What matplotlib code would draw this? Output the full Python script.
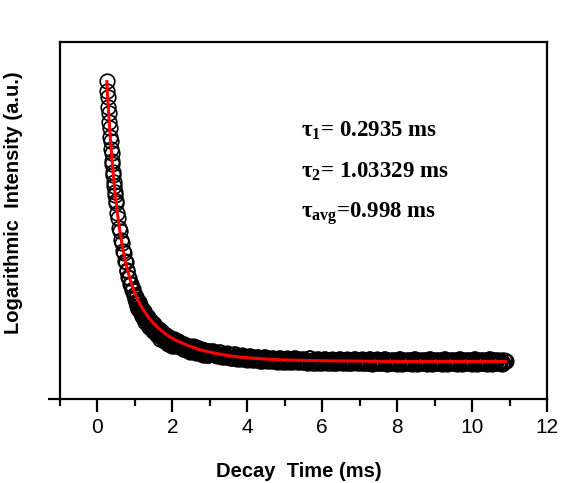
import matplotlib
matplotlib.use("Agg")
import matplotlib.pyplot as plt
from matplotlib.ticker import MultipleLocator

# measured decay data (time in ms, intensity in arbitrary units)
t_data = [0.25, 0.2625, 0.275, 0.2875, 0.30, 0.3125, 0.325, 0.3375, 0.35, 0.3625,
          0.375, 0.3875, 0.40, 0.4125, 0.425, 0.4375, 0.45, 0.4625, 0.475, 0.4875, 0.50,
          0.525, 0.55, 0.575, 0.60, 0.625, 0.65, 0.675, 0.70, 0.725, 0.75,
          0.775, 0.80, 0.825, 0.85, 0.875, 0.90, 0.925, 0.95, 0.975,
          1.000, 1.025, 1.050, 1.075, 1.100, 1.125, 1.150, 1.175, 1.200, 1.225,
          1.250, 1.275, 1.300, 1.325, 1.350, 1.375, 1.400, 1.425, 1.450, 1.475,
          1.500, 1.525, 1.550, 1.575, 1.600, 1.625, 1.650, 1.675, 1.700, 1.725,
          1.750, 1.775, 1.800, 1.825, 1.850, 1.875, 1.900, 1.925, 1.950, 1.975,
          2.000, 2.025, 2.050, 2.075, 2.100, 2.125, 2.150, 2.175, 2.200, 2.225,
          2.250, 2.275, 2.300, 2.325, 2.350, 2.375, 2.400, 2.425, 2.450, 2.475,
          2.500, 2.525, 2.550, 2.575, 2.600, 2.625, 2.650, 2.675, 2.700, 2.725,
          2.750, 2.775, 2.800, 2.825, 2.850, 2.875, 2.900, 2.925, 2.950, 2.975,
          3.00, 3.05, 3.10, 3.15, 3.20, 3.25, 3.30, 3.35, 3.40, 3.45, 3.50,
          3.55, 3.60, 3.65, 3.70, 3.75, 3.80, 3.85, 3.90, 3.95, 4.00,
          4.05, 4.10, 4.15, 4.20, 4.25, 4.30, 4.35, 4.40, 4.45, 4.50,
          4.55, 4.60, 4.65, 4.70, 4.75, 4.80, 4.85, 4.90, 4.95, 5.00,
          5.05, 5.10, 5.15, 5.20, 5.25, 5.30, 5.35, 5.40, 5.45, 5.50,
          5.55, 5.60, 5.65, 5.70, 5.75, 5.80, 5.85, 5.90, 5.95, 6.00,
          6.05, 6.10, 6.15, 6.20, 6.25, 6.30, 6.35, 6.40, 6.45, 6.50,
          6.55, 6.60, 6.65, 6.70, 6.75, 6.80, 6.85, 6.90, 6.95, 7.00,
          7.05, 7.10, 7.15, 7.20, 7.25, 7.30, 7.35, 7.40, 7.45, 7.50,
          7.55, 7.60, 7.65, 7.70, 7.75, 7.80, 7.85, 7.90, 7.95, 8.00,
          8.05, 8.10, 8.15, 8.20, 8.25, 8.30, 8.35, 8.40, 8.45, 8.50,
          8.55, 8.60, 8.65, 8.70, 8.75, 8.80, 8.85, 8.90, 8.95, 9.00,
          9.05, 9.10, 9.15, 9.20, 9.25, 9.30, 9.35, 9.40, 9.45, 9.50,
          9.55, 9.60, 9.65, 9.70, 9.75, 9.80, 9.85, 9.90, 9.95, 10.00,
          10.05, 10.10, 10.15, 10.20, 10.25, 10.30, 10.35, 10.40, 10.45, 10.50,
          10.55, 10.60, 10.65, 10.70, 10.75, 10.80, 10.85, 10.90]
i_data = [0.891, 0.862, 0.845, 0.817, 0.800, 0.775, 0.760, 0.735, 0.723, 0.700,
          0.689, 0.668, 0.657, 0.636, 0.627, 0.607, 0.598, 0.580, 0.572, 0.555, 0.549,
          0.521, 0.507, 0.480, 0.470, 0.446, 0.437, 0.414, 0.409, 0.387, 0.384,
          0.362, 0.359, 0.341, 0.340, 0.322, 0.323, 0.305, 0.308, 0.291,
          0.292, 0.272, 0.275, 0.253, 0.271, 0.254, 0.242, 0.251, 0.249, 0.231,
          0.236, 0.216, 0.235, 0.219, 0.209, 0.219, 0.219, 0.202, 0.208, 0.189,
          0.209, 0.194, 0.185, 0.196, 0.197, 0.180, 0.187, 0.169, 0.190, 0.176,
          0.167, 0.179, 0.180, 0.164, 0.171, 0.153, 0.174, 0.160, 0.152, 0.164,
          0.166, 0.156, 0.161, 0.149, 0.163, 0.153, 0.147, 0.155, 0.156, 0.145,
          0.150, 0.139, 0.153, 0.144, 0.138, 0.146, 0.147, 0.137, 0.142, 0.131,
          0.145, 0.143, 0.135, 0.146, 0.137, 0.130, 0.142, 0.136, 0.129, 0.136,
          0.129, 0.140, 0.130, 0.123, 0.136, 0.130, 0.124, 0.131, 0.123, 0.134,
          0.125, 0.135, 0.125, 0.129, 0.121, 0.132, 0.123, 0.127, 0.118, 0.128, 0.118,
          0.122, 0.114, 0.126, 0.117, 0.121, 0.113, 0.122, 0.112, 0.117, 0.109,
          0.121, 0.112, 0.117, 0.109, 0.118, 0.109, 0.114, 0.106, 0.118, 0.110,
          0.114, 0.106, 0.116, 0.107, 0.111, 0.104, 0.116, 0.108, 0.112, 0.104,
          0.114, 0.105, 0.110, 0.103, 0.115, 0.107, 0.112, 0.103, 0.113, 0.104,
          0.109, 0.102, 0.114, 0.106, 0.110, 0.102, 0.112, 0.103, 0.108, 0.101,
          0.113, 0.105, 0.110, 0.102, 0.112, 0.102, 0.107, 0.100, 0.112, 0.104,
          0.109, 0.101, 0.111, 0.102, 0.107, 0.100, 0.112, 0.104, 0.109, 0.101,
          0.111, 0.102, 0.107, 0.100, 0.112, 0.104, 0.109, 0.101, 0.111, 0.102,
          0.107, 0.100, 0.111, 0.104, 0.108, 0.100, 0.110, 0.101, 0.106, 0.099,
          0.111, 0.103, 0.108, 0.100, 0.110, 0.101, 0.106, 0.099, 0.111, 0.103,
          0.108, 0.100, 0.110, 0.101, 0.106, 0.099, 0.111, 0.103, 0.108, 0.100,
          0.110, 0.101, 0.106, 0.099, 0.111, 0.103, 0.108, 0.100, 0.110, 0.101,
          0.106, 0.099, 0.111, 0.103, 0.108, 0.100, 0.110, 0.101, 0.106, 0.099,
          0.111, 0.103, 0.108, 0.100, 0.110, 0.101, 0.106, 0.099, 0.111, 0.103,
          0.108, 0.100, 0.110, 0.101, 0.106, 0.099, 0.109, 0.106]

# in-between samples of the same measurement (1 - 10.9 ms)
t_data2 = [1.0125, 1.0375, 1.0625, 1.0875, 1.1125, 1.1375, 1.1625, 1.1875, 1.2125, 1.2375,
           1.2625, 1.2875, 1.3125, 1.3375, 1.3625, 1.3875, 1.4125, 1.4375, 1.4625, 1.4875,
           1.5125, 1.5375, 1.5625, 1.5875, 1.6125, 1.6375, 1.6625, 1.6875, 1.7125, 1.7375,
           1.7625, 1.7875, 1.8125, 1.8375, 1.8625, 1.8875, 1.9125, 1.9375, 1.9625, 1.9875,
           2.0125, 2.0375, 2.0625, 2.0875, 2.1125, 2.1375, 2.1625, 2.1875, 2.2125, 2.2375,
           2.2625, 2.2875, 2.3125, 2.3375, 2.3625, 2.3875, 2.4125, 2.4375, 2.4625, 2.4875,
           2.5125, 2.5375, 2.5625, 2.5875, 2.6125, 2.6375, 2.6625, 2.6875, 2.7125, 2.7375,
           2.7625, 2.7875, 2.8125, 2.8375, 2.8625, 2.8875, 2.9125, 2.9375, 2.9625, 2.9875,
           3.025, 3.075, 3.125, 3.175, 3.225, 3.275, 3.325, 3.375, 3.425, 3.475,
           3.525, 3.575, 3.625, 3.675, 3.725, 3.775, 3.825, 3.875, 3.925, 3.975,
           4.025, 4.075, 4.125, 4.175, 4.225, 4.275, 4.325, 4.375, 4.425, 4.475,
           4.525, 4.575, 4.625, 4.675, 4.725, 4.775, 4.825, 4.875, 4.925, 4.975,
           5.025, 5.075, 5.125, 5.175, 5.225, 5.275, 5.325, 5.375, 5.425, 5.475,
           5.525, 5.575, 5.625, 5.675, 5.725, 5.775, 5.825, 5.875, 5.925, 5.975,
           6.025, 6.075, 6.125, 6.175, 6.225, 6.275, 6.325, 6.375, 6.425, 6.475,
           6.525, 6.575, 6.625, 6.675, 6.725, 6.775, 6.825, 6.875, 6.925, 6.975,
           7.025, 7.075, 7.125, 7.175, 7.225, 7.275, 7.325, 7.375, 7.425, 7.475,
           7.525, 7.575, 7.625, 7.675, 7.725, 7.775, 7.825, 7.875, 7.925, 7.975,
           8.025, 8.075, 8.125, 8.175, 8.225, 8.275, 8.325, 8.375, 8.425, 8.475,
           8.525, 8.575, 8.625, 8.675, 8.725, 8.775, 8.825, 8.875, 8.925, 8.975,
           9.025, 9.075, 9.125, 9.175, 9.225, 9.275, 9.325, 9.375, 9.425, 9.475,
           9.525, 9.575, 9.625, 9.675, 9.725, 9.775, 9.825, 9.875, 9.925, 9.975,
           10.025, 10.075, 10.125, 10.175, 10.225, 10.275, 10.325, 10.375, 10.425, 10.475,
           10.525, 10.575, 10.625, 10.675, 10.725, 10.775, 10.825, 10.875]
i_data2 = [0.281, 0.286, 0.261, 0.270, 0.256, 0.263, 0.251, 0.232, 0.239, 0.246,
           0.223, 0.233, 0.220, 0.229, 0.218, 0.201, 0.210, 0.218, 0.196, 0.207,
           0.195, 0.204, 0.195, 0.178, 0.188, 0.196, 0.175, 0.187, 0.176, 0.186,
           0.177, 0.161, 0.171, 0.180, 0.159, 0.171, 0.160, 0.171, 0.162, 0.147,
           0.163, 0.168, 0.156, 0.162, 0.155, 0.161, 0.156, 0.148, 0.152, 0.157,
           0.146, 0.152, 0.146, 0.152, 0.147, 0.139, 0.144, 0.149, 0.138, 0.144,
           0.143, 0.147, 0.136, 0.142, 0.138, 0.145, 0.135, 0.140, 0.136, 0.140,
           0.130, 0.136, 0.131, 0.138, 0.129, 0.134, 0.131, 0.135, 0.124, 0.130,
           0.129, 0.133, 0.123, 0.129, 0.123, 0.131, 0.118, 0.124, 0.121, 0.126,
           0.116, 0.122, 0.116, 0.125, 0.112, 0.118, 0.116, 0.120, 0.111, 0.117,
           0.112, 0.120, 0.108, 0.114, 0.112, 0.117, 0.107, 0.114, 0.109, 0.117,
           0.105, 0.112, 0.110, 0.114, 0.105, 0.112, 0.107, 0.115, 0.103, 0.110,
           0.108, 0.113, 0.104, 0.111, 0.106, 0.115, 0.103, 0.109, 0.107, 0.112,
           0.103, 0.110, 0.105, 0.114, 0.101, 0.108, 0.106, 0.111, 0.102, 0.109,
           0.104, 0.113, 0.101, 0.108, 0.106, 0.110, 0.101, 0.108, 0.103, 0.112,
           0.100, 0.107, 0.105, 0.110, 0.101, 0.108, 0.103, 0.112, 0.100, 0.107,
           0.105, 0.110, 0.100, 0.108, 0.102, 0.111, 0.099, 0.106, 0.105, 0.110,
           0.100, 0.108, 0.102, 0.111, 0.099, 0.106, 0.105, 0.110, 0.100, 0.108,
           0.102, 0.111, 0.099, 0.106, 0.105, 0.110, 0.100, 0.108, 0.102, 0.111,
           0.099, 0.106, 0.105, 0.110, 0.100, 0.108, 0.102, 0.111, 0.099, 0.106,
           0.105, 0.110, 0.100, 0.108, 0.102, 0.111, 0.099, 0.106, 0.105, 0.110,
           0.100, 0.108, 0.102, 0.111, 0.099, 0.106, 0.105, 0.110, 0.100, 0.108,
           0.102, 0.111, 0.099, 0.106, 0.105, 0.110, 0.100, 0.108, 0.102, 0.111,
           0.099, 0.106, 0.105, 0.110, 0.100, 0.108, 0.102, 0.107]

# bi-exponential fit curve
t_fit = [0.25, 0.27, 0.30, 0.34, 0.38, 0.42, 0.47, 0.52, 0.58, 0.65, 0.72, 0.80,
         0.90, 1.0, 1.1, 1.2, 1.35, 1.5, 1.7, 1.9, 2.1, 2.4, 2.7, 3.0, 3.4, 3.8,
         4.3, 5.0, 6.0, 7.0, 8.0, 9.0, 10.0, 10.9]
i_fit = [0.889, 0.851, 0.798, 0.735, 0.680, 0.630, 0.576, 0.530, 0.482, 0.436,
         0.398, 0.361, 0.325, 0.296, 0.273, 0.253, 0.230, 0.211, 0.192, 0.176,
         0.164, 0.150, 0.139, 0.131, 0.123, 0.117, 0.113, 0.109, 0.107, 0.106,
         0.105, 0.105, 0.105, 0.105]

labels = [r'τ$_{\mathbf{1}}$= 0.2935 ms', r'τ$_{\mathbf{2}}$= 1.03329 ms',
          r'τ$_{\mathbf{avg}}$=0.998 ms']

plt.rcParams['font.family'] = ['Liberation Sans', 'DejaVu Sans']
plt.rcParams['mathtext.fontset'] = 'custom'
plt.rcParams['mathtext.rm'] = 'Liberation Serif'
plt.rcParams['mathtext.bf'] = 'Liberation Serif:bold'

fig = plt.figure(figsize=(5.64, 4.83), dpi=100)
ax = fig.add_axes([0.1064, 0.174, 0.8636, 0.739])

ax.plot(t_data + t_data2, i_data + i_data2, 'o', ms=10.5, mfc='none',
        mec='black', mew=1.2)
ax.plot(t_fit, i_fit, '-', color='red', lw=2.2)

ax.set_xlim(-1, 12)
ax.set_ylim(0, 1)
ax.xaxis.set_minor_locator(MultipleLocator(1))
ax.set_xticks([0, 2, 4, 6, 8, 10, 12])
ax.set_yticks([0])
ax.set_yticklabels([''])
ax.tick_params(axis='both', which='major', direction='out', length=9, width=1.6,
               labelsize=15, pad=5)
ax.tick_params(axis='x', which='minor', direction='out', length=5, width=1.6)
for s in ax.spines.values():
    s.set_linewidth(1.6)

ax.set_xlabel('Decay  Time (ms)', fontsize=14.5, fontweight='bold')
ax.xaxis.set_label_coords(0.49, -0.176)
ax.set_ylabel('Logarithmic  Intensity (a.u.)', fontsize=14.5, fontweight='bold')
ax.yaxis.set_label_coords(-0.076, 0.55)

ys = [0.737, 0.622, 0.507]
for lab, y in zip(labels, ys):
    ax.text(5.44, y, lab, fontsize=16.5, fontweight='bold',
            family='Liberation Serif', va='baseline', ha='left')

fig.savefig('out.png', dpi=100)
